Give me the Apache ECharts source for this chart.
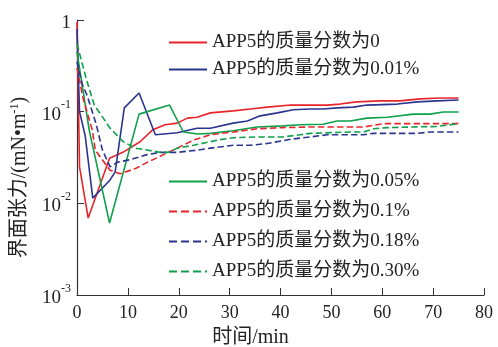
<!DOCTYPE html>
<html><head><meta charset="utf-8">
<script src="https://cdn.jsdelivr.net/npm/echarts@6/dist/echarts.min.js"></script>
<style>html,body{margin:0;padding:0;background:#fff}#c{width:498px;height:347px}</style>
</head><body><div id="c"></div>
<script>
const names = ['APP5的质量分数为0','APP5的质量分数为0.01%','APP5的质量分数为0.05%','APP5的质量分数为0.1%','APP5的质量分数为0.18%','APP5的质量分数为0.30%'];
const xTicks = [0,10,20,30,40,50,60,70,80];

const tA = [0,0.5,2.2,6.4,9,12.4,14.8,17.3,19.7,21.7,23.6,26.2,30.7,34.1,37.4,42,49.2,51.7,55,59.6,63.5,67.4,71.4,75];
const vA = [0.95,0.025,0.0069,0.031,0.036,0.047,0.063,0.072,0.075,0.085,0.087,0.097,0.102,0.107,0.112,0.118,0.118,0.121,0.128,0.131,0.131,0.138,0.141,0.141];

const tB = [0,0.5,1.6,3.1,6.5,7.5,9.3,12.2,15.4,19.7,23.6,26.2,30.7,33.5,36,39.4,42.5,45.8,48.4,51.1,54.3,57,63,66.9,70.8,75];
const vB = [0.8,0.1,0.055,0.0114,0.018,0.022,0.11,0.16,0.056,0.059,0.066,0.066,0.075,0.079,0.09,0.097,0.105,0.107,0.107,0.11,0.112,0.118,0.121,0.128,0.131,0.134];

const tC = [0,2.4,6.4,12.2,18.2,20.9,23.7,26.2,30.7,35.4,40.5,43.9,48.4,51.1,53.7,57,61,66.1,69.4,72,75];
const vC = [0.45,0.063,0.0061,0.094,0.118,0.06,0.057,0.058,0.062,0.068,0.07,0.072,0.073,0.079,0.079,0.085,0.087,0.094,0.094,0.099,0.099];

const tD = [0,1.2,3,3.6,6.5,8.5,11.5,13.8,15,17,19.7,22.9,26.2,30.7,35.4,40.5,45.8,51.7,56.3,60.2,75];
const vD = [0.3,0.14,0.063,0.038,0.023,0.021,0.024,0.028,0.03,0.034,0.04,0.049,0.056,0.06,0.065,0.067,0.068,0.068,0.068,0.074,0.074];

const tE = [0,1,2,3.8,5,6.5,7.9,10.5,13.8,16.4,19.7,23.6,26.2,30.7,34.1,37.4,42,45.8,49.2,53.7,56.3,58.3,67,69.4,75];
const vE = [0.35,0.2,0.15,0.072,0.038,0.025,0.028,0.03,0.034,0.036,0.036,0.038,0.04,0.043,0.043,0.045,0.05,0.053,0.056,0.056,0.056,0.058,0.058,0.06,0.06];

const tF = [0,1.8,3.4,5.7,6.5,9.1,11.5,16.4,18,19.7,22.9,26.2,27.6,30.7,35.4,40.5,43.9,45.8,53.7,56.3,58.3,61,70.8,75];
const vF = [0.55,0.23,0.118,0.077,0.066,0.047,0.04,0.036,0.036,0.04,0.043,0.047,0.049,0.052,0.053,0.053,0.056,0.058,0.06,0.06,0.065,0.067,0.069,0.074];

const colors = ['#e8242b','#2a3590','#0ea04b','#e8242b','#2a3590','#0ea04b'];
const types = ['solid','solid','solid','dashed','dashed','dashed'];
const ts = [tA,tB,tC,tD,tE,tF], vs = [vA,vB,vC,vD,vE,vF];

const serif = '"Liberation Serif","Times New Roman","Noto Sans CJK SC",serif';
const chart = echarts.init(document.getElementById('c'));
const legText = {fontFamily:serif,fontSize:19,color:'#222'};
chart.setOption({
  animation:false,
  grid:{left:77,right:14,top:20,bottom:52,containLabel:false,outerBoundsMode:'none'},
  legend:[
    {data:names.slice(0,2),orient:'vertical',left:163,top:28,itemGap:8,itemWidth:38,itemHeight:20,
     itemStyle:{opacity:0},textStyle:legText},
    {data:names.slice(2),orient:'vertical',left:163,top:167,itemGap:11,itemWidth:38,itemHeight:20,
     itemStyle:{opacity:0},textStyle:legText}
  ],
  xAxis:{type:'value',min:0,max:80,interval:10,
    name:'时间/min',nameLocation:'middle',nameGap:33,
    nameTextStyle:{fontFamily:serif,fontSize:20,color:'#222',padding:[0,60,0,0]},
    axisLine:{lineStyle:{color:'#333',width:1.2}},
    axisTick:{inside:true,length:7,lineStyle:{color:'#333'}},
    axisLabel:{fontFamily:serif,fontSize:18,color:'#222',margin:9,
      formatter:v=>xTicks.includes(v)?String(v):''},
    splitLine:{show:false}},
  yAxis:{type:'log',logBase:10,min:0.001,max:1,
    name:'界面张力/(mN•m{s|-1})',nameLocation:'middle',nameGap:46,nameRotate:90,
    nameTextStyle:{fontFamily:serif,fontSize:20,color:'#222',padding:[0,40,0,0],
      rich:{s:{fontFamily:serif,fontSize:12,color:'#222',verticalAlign:'bottom',padding:[0,0,10,0]}}},
    axisLine:{show:true,lineStyle:{color:'#333',width:1.2}},
    axisTick:{show:true,inside:true,length:7,lineStyle:{color:'#333'}},
    minorTick:{show:false},
    splitLine:{show:false},
    axisLabel:{margin:6,color:'#222',
      formatter:v=>{const e=Math.round(Math.log10(v));return e===0?'{b|1}':'{b|10}{s|'+e+'}';},
      rich:{b:{fontFamily:serif,fontSize:19,color:'#222',padding:[6,0,0,0]},
            s:{fontFamily:serif,fontSize:12,color:'#222',verticalAlign:'top'}}}},
  series:names.map((n,i)=>({
    name:n,type:'line',symbol:'none',
    data:ts[i].map((t,j)=>[t,vs[i][j]]),
    lineStyle:{color:colors[i],width:1.6,type:types[i]},
    itemStyle:{color:colors[i]}
  }))
});
</script></body></html>
